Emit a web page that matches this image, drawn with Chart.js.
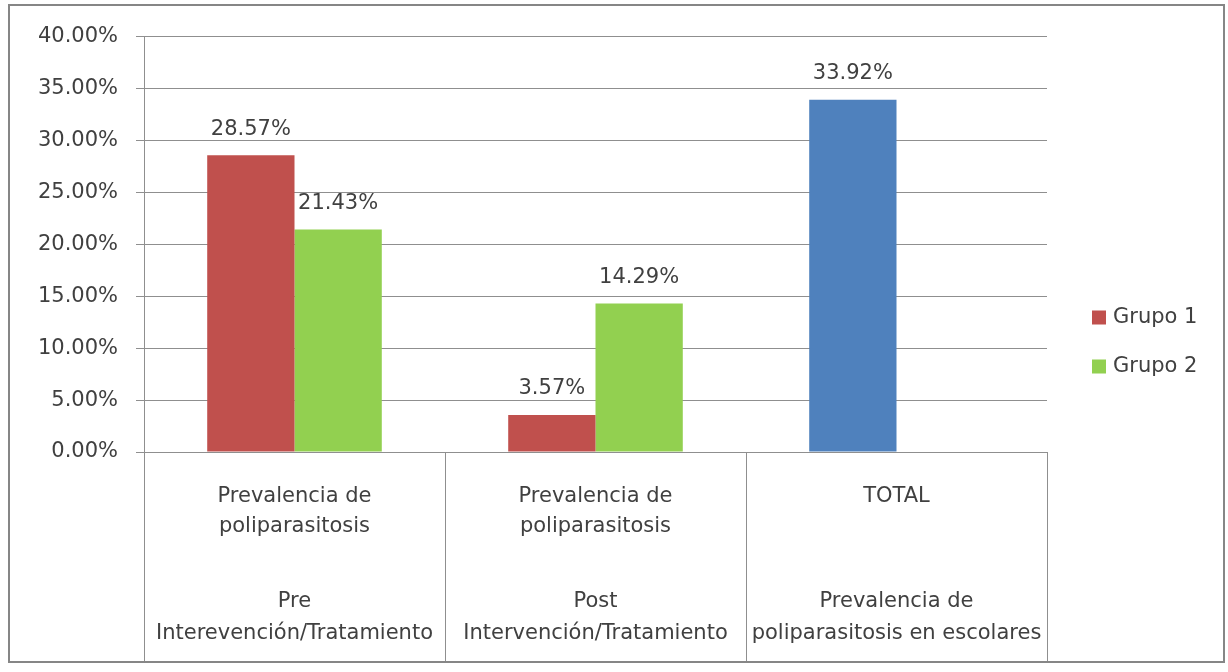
<!DOCTYPE html>
<html>
<head>
<meta charset="utf-8">
<script src="https://cdn.jsdelivr.net/npm/chart.js@4.4.0/dist/chart.umd.min.js"></script>
<style>
  html, body { margin: 0; background: #fff; }
  .frame {
    position: absolute; left: 8px; top: 4px;
    width: 1217px; height: 659px;
    border: 2px solid #868686; box-sizing: border-box; background: #fff;
  }
  canvas { display: block; }
</style>
</head>
<body>
<div class="frame"><canvas id="chart" width="1213" height="655"></canvas></div>
<script>
// categorias (primer nivel) y etapas (segundo nivel)
const categories = [['Prevalencia de', 'poliparasitosis'], ['Prevalencia de', 'poliparasitosis'], 'TOTAL'];
const stages = [
  ['Pre', 'Interevención/Tratamiento'],
  ['Post', 'Intervención/Tratamiento'],
  ['Prevalencia de', 'poliparasitosis en escolares']
];
const grupo1 = [28.57, 3.57, 33.92];
const grupo2 = [21.43, 14.29, null];
const grupo1Colors = ['#C0504D', '#C0504D', '#4F81BD'];
const grupo2Color = '#92D050';
const yMin = 0, yMax = 40, yStep = 5;

const textColor = '#404040';
const lineColor = '#8f8f8f';
Chart.defaults.font.family = '"DejaVu Sans", sans-serif';
Chart.defaults.font.size = 21;
Chart.defaults.color = textColor;

// porcentaje encima de cada barra
const valueLabels = {
  id: 'valueLabels',
  afterDatasetsDraw(chart) {
    const ctx = chart.ctx;
    ctx.save();
    ctx.font = '21px "DejaVu Sans", sans-serif';
    ctx.fillStyle = textColor;
    ctx.textAlign = 'center';
    ctx.textBaseline = 'middle';
    chart.data.datasets.forEach((ds, di) => {
      chart.getDatasetMeta(di).data.forEach((bar, i) => {
        const v = ds.data[i];
        if (v == null) return;
        ctx.fillText(v.toFixed(2) + '%', bar.x, bar.y - 26);
      });
    });
    ctx.restore();
  }
};

// lineas verticales entre categorias, bajo el area de trazado
const categoryDividers = {
  id: 'categoryDividers',
  afterDraw(chart) {
    const x = chart.scales.x;
    const step = x.width / categories.length;
    const ctx = chart.ctx;
    ctx.save();
    ctx.strokeStyle = lineColor;
    ctx.lineWidth = 1;
    for (let i = 0; i <= categories.length; i++) {
      const px = Math.round(x.left + i * step) + 0.5;
      ctx.beginPath();
      ctx.moveTo(px, chart.chartArea.bottom);
      ctx.lineTo(px, chart.height);
      ctx.stroke();
    }
    ctx.restore();
  }
};

// leyenda a la derecha
const sideLegend = {
  id: 'sideLegend',
  afterDraw(chart) {
    const ctx = chart.ctx;
    const x0 = chart.chartArea.right + 45;
    let y = chart.height / 2 - 16;
    ctx.save();
    ctx.font = '21px "DejaVu Sans", sans-serif';
    ctx.textBaseline = 'middle';
    ctx.textAlign = 'left';
    chart.data.datasets.forEach(ds => {
      const c = Array.isArray(ds.backgroundColor) ? ds.backgroundColor[0] : ds.backgroundColor;
      ctx.fillStyle = c;
      ctx.fillRect(x0, y - 7, 14, 14);
      ctx.fillStyle = textColor;
      ctx.fillText(ds.label, x0 + 21, y);
      y += 49;
    });
    ctx.restore();
  }
};

new Chart(document.getElementById('chart'), {
  type: 'bar',
  data: {
    labels: categories,
    datasets: [
      { label: 'Grupo 1', data: grupo1, backgroundColor: grupo1Colors },
      { label: 'Grupo 2', data: grupo2, backgroundColor: grupo2Color }
    ]
  },
  options: {
    responsive: false,
    animation: false,
    categoryPercentage: 0.58,
    barPercentage: 1,
    layout: { padding: { left: 0, top: 29, right: 176, bottom: 0 } },
    plugins: { legend: { display: false }, tooltip: { enabled: false } },
    scales: {
      y: {
        min: yMin, max: yMax,
        ticks: { stepSize: yStep, padding: 18, callback: v => v.toFixed(2) + '%' },
        grid: { color: lineColor, tickLength: 8, drawTicks: true },
        border: { display: true, color: lineColor },
        afterFit(scale) { scale.width = 134; }
      },
      x: {
        weight: 0,
        grid: { display: false },
        border: { display: true, color: lineColor },
        ticks: { padding: 22, maxRotation: 0, autoSkip: false, font: { lineHeight: 30 / 21 } },
        afterFit(scale) { scale.height = 110; }
      },
      x2: {
        type: 'category',
        position: 'bottom',
        weight: 1,
        labels: stages,
        grid: { display: false },
        border: { display: false },
        ticks: { padding: 16, maxRotation: 0, autoSkip: false, font: { lineHeight: 32 / 21 } },
        afterFit(scale) { scale.height = 99; }
      }
    }
  },
  plugins: [valueLabels, categoryDividers, sideLegend]
});
</script>
</body>
</html>
